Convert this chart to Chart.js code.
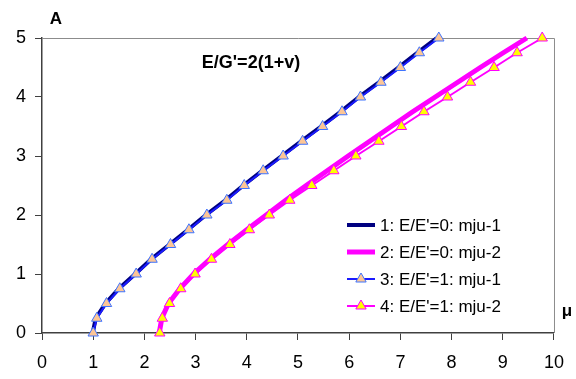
<!DOCTYPE html>
<html>
<head>
<meta charset="utf-8">
<script src="https://cdn.jsdelivr.net/npm/chart.js@4.4.0/dist/chart.umd.min.js"></script>
<style>
  html, body { margin: 0; padding: 0; background: #fff; }
  #wrap { width: 576px; height: 379px; }
</style>
</head>
<body>
<div id="wrap"><canvas id="grafico" width="576" height="379"></canvas></div>
<script>
// Niveles de A (eje vertical), comunes a todas las series
const nivelesA = [0, 0.25, 0.5, 0.75, 1, 1.25, 1.5, 1.75, 2, 2.25, 2.5, 2.75, 3, 3.25, 3.5, 3.75, 4, 4.25, 4.5, 4.75, 5];

// Valores de mu para cada serie
const mu1 = [0.99, 1.05, 1.24, 1.50, 1.82, 2.13, 2.49, 2.85, 3.20, 3.58, 3.93, 4.30, 4.68, 5.06, 5.45, 5.83, 6.19, 6.58, 6.96, 7.33, 7.71];
const mu2 = [2.29, 2.34, 2.47, 2.69, 2.96, 3.28, 3.63, 4.00, 4.38, 4.76, 5.16, 5.57, 5.98, 6.40, 6.82, 7.24, 7.68, 8.12, 8.56, 9.01, 9.47];
const mu3 = [1.00, 1.07, 1.26, 1.52, 1.84, 2.15, 2.51, 2.87, 3.22, 3.61, 3.95, 4.32, 4.71, 5.09, 5.48, 5.86, 6.22, 6.62, 7.00, 7.37, 7.75];
const mu4 = [2.30, 2.35, 2.49, 2.71, 2.99, 3.31, 3.67, 4.05, 4.44, 4.84, 5.27, 5.70, 6.13, 6.58, 7.02, 7.46, 7.92, 8.37, 8.83, 9.28, 9.77];

const etiquetas = ["1: E/E'=0: mju-1", "2: E/E'=0: mju-2", "3: E/E'=1: mju-1", "4: E/E'=1: mju-2"];
const tituloTexto = "E/G'=2(1+v)";
const ticksX = [0, 1, 2, 3, 4, 5, 6, 7, 8, 9, 10];
const ticksY = [0, 1, 2, 3, 4, 5];

const FUENTE = "'Liberation Sans', Arial, sans-serif";

function puntos(xs) {
    return xs.map((x, i) => ({ x: x, y: nivelesA[i] }));
}

// Marco gris del area de trazado, textos y leyenda
const extras = {
    id: 'extras',
    beforeDatasetsDraw(chart) {
        const ctx = chart.ctx;
        const a = chart.chartArea;
        ctx.save();
        ctx.strokeStyle = '#8c8c8c';
        ctx.lineWidth = 1;
        ctx.beginPath();
        ctx.moveTo(a.left, a.top + 0.5);
        ctx.lineTo(a.right + 0.5, a.top + 0.5);
        ctx.lineTo(a.right + 0.5, a.bottom);
        ctx.stroke();
        ctx.restore();
    },
    afterDraw(chart) {
        const ctx = chart.ctx;
        ctx.save();
        ctx.fillStyle = '#000';
        ctx.textBaseline = 'middle';
        ctx.font = 'bold 17px ' + FUENTE;
        ctx.textAlign = 'center';
        ctx.fillText('A', 56, 19);
        ctx.fillText('\u03bc', 567, 311);
        ctx.font = 'bold 18px ' + FUENTE;
        ctx.fillText(tituloTexto, 251, 63);

        // Leyenda
        const filas = [225, 252, 279, 306];
        const sets = chart.data.datasets;
        ctx.font = '17px ' + FUENTE;
        ctx.textAlign = 'left';
        filas.forEach((y, i) => {
            const ds = sets[i];
            ctx.strokeStyle = ds.borderColor;
            ctx.lineWidth = ds.borderWidth;
            ctx.beginPath();
            ctx.moveTo(347, y);
            ctx.lineTo(375, y);
            ctx.stroke();
            if (ds.pointRadius > 0) {
                const r = ds.pointRadius;
                ctx.fillStyle = ds.pointBackgroundColor;
                ctx.strokeStyle = ds.pointBorderColor;
                ctx.lineWidth = 1;
                ctx.beginPath();
                ctx.moveTo(361, y - r);
                ctx.lineTo(361 + r * 0.866, y + r * 0.5);
                ctx.lineTo(361 - r * 0.866, y + r * 0.5);
                ctx.closePath();
                ctx.fill();
                ctx.stroke();
            }
            ctx.fillStyle = '#000';
            ctx.fillText(etiquetas[i], 380, y + 1);
        });
        ctx.restore();
    }
};

new Chart(document.getElementById('grafico'), {
    type: 'scatter',
    data: {
        datasets: [
            {
                label: etiquetas[0],
                data: puntos(mu1),
                showLine: true,
                borderColor: '#000080',
                borderWidth: 4,
                pointRadius: 0,
                clip: false,
                order: 4
            },
            {
                label: etiquetas[1],
                data: puntos(mu2),
                showLine: true,
                borderColor: '#ff00ff',
                borderWidth: 5,
                pointRadius: 0,
                clip: false,
                order: 3
            },
            {
                label: etiquetas[2],
                data: puntos(mu3),
                showLine: true,
                borderColor: '#1a1aff',
                borderWidth: 2,
                pointStyle: 'triangle',
                pointRadius: 6,
                pointBackgroundColor: '#fcc596',
                pointBorderColor: '#3f74ff',
                pointBorderWidth: 1,
                clip: false,
                order: 2
            },
            {
                label: etiquetas[3],
                data: puntos(mu4),
                showLine: true,
                borderColor: '#ff00ff',
                borderWidth: 2,
                pointStyle: 'triangle',
                pointRadius: 6,
                pointBackgroundColor: '#ffff00',
                pointBorderColor: '#ff00ff',
                pointBorderWidth: 1,
                clip: false,
                order: 1
            }
        ]
    },
    options: {
        responsive: false,
        animation: false,
        events: [],
        layout: { padding: { left: 0, top: 38, right: 21, bottom: 0 } },
        plugins: {
            legend: { display: false },
            tooltip: { enabled: false },
            title: { display: false }
        },
        scales: {
            x: {
                type: 'linear',
                min: 0,
                max: 10,
                afterFit: s => { s.height = 46; },
                afterBuildTicks: s => { s.ticks = ticksX.map(v => ({ value: v })); },
                border: { color: '#404040', width: 1.5 },
                grid: { drawOnChartArea: false, drawTicks: true, tickLength: 7, color: '#404040', lineWidth: 1 },
                ticks: { color: '#000', font: { family: FUENTE, size: 18 }, padding: 12, maxRotation: 0 }
            },
            y: {
                type: 'linear',
                min: 0,
                max: 5,
                afterFit: s => { s.width = 42; },
                afterBuildTicks: s => { s.ticks = ticksY.map(v => ({ value: v })); },
                border: { color: '#404040', width: 1.5 },
                grid: { drawOnChartArea: false, drawTicks: true, tickLength: 7, color: '#404040', lineWidth: 1 },
                ticks: { color: '#000', font: { family: FUENTE, size: 18 }, padding: 9 }
            }
        }
    },
    plugins: [extras]
});
</script>
</body>
</html>
